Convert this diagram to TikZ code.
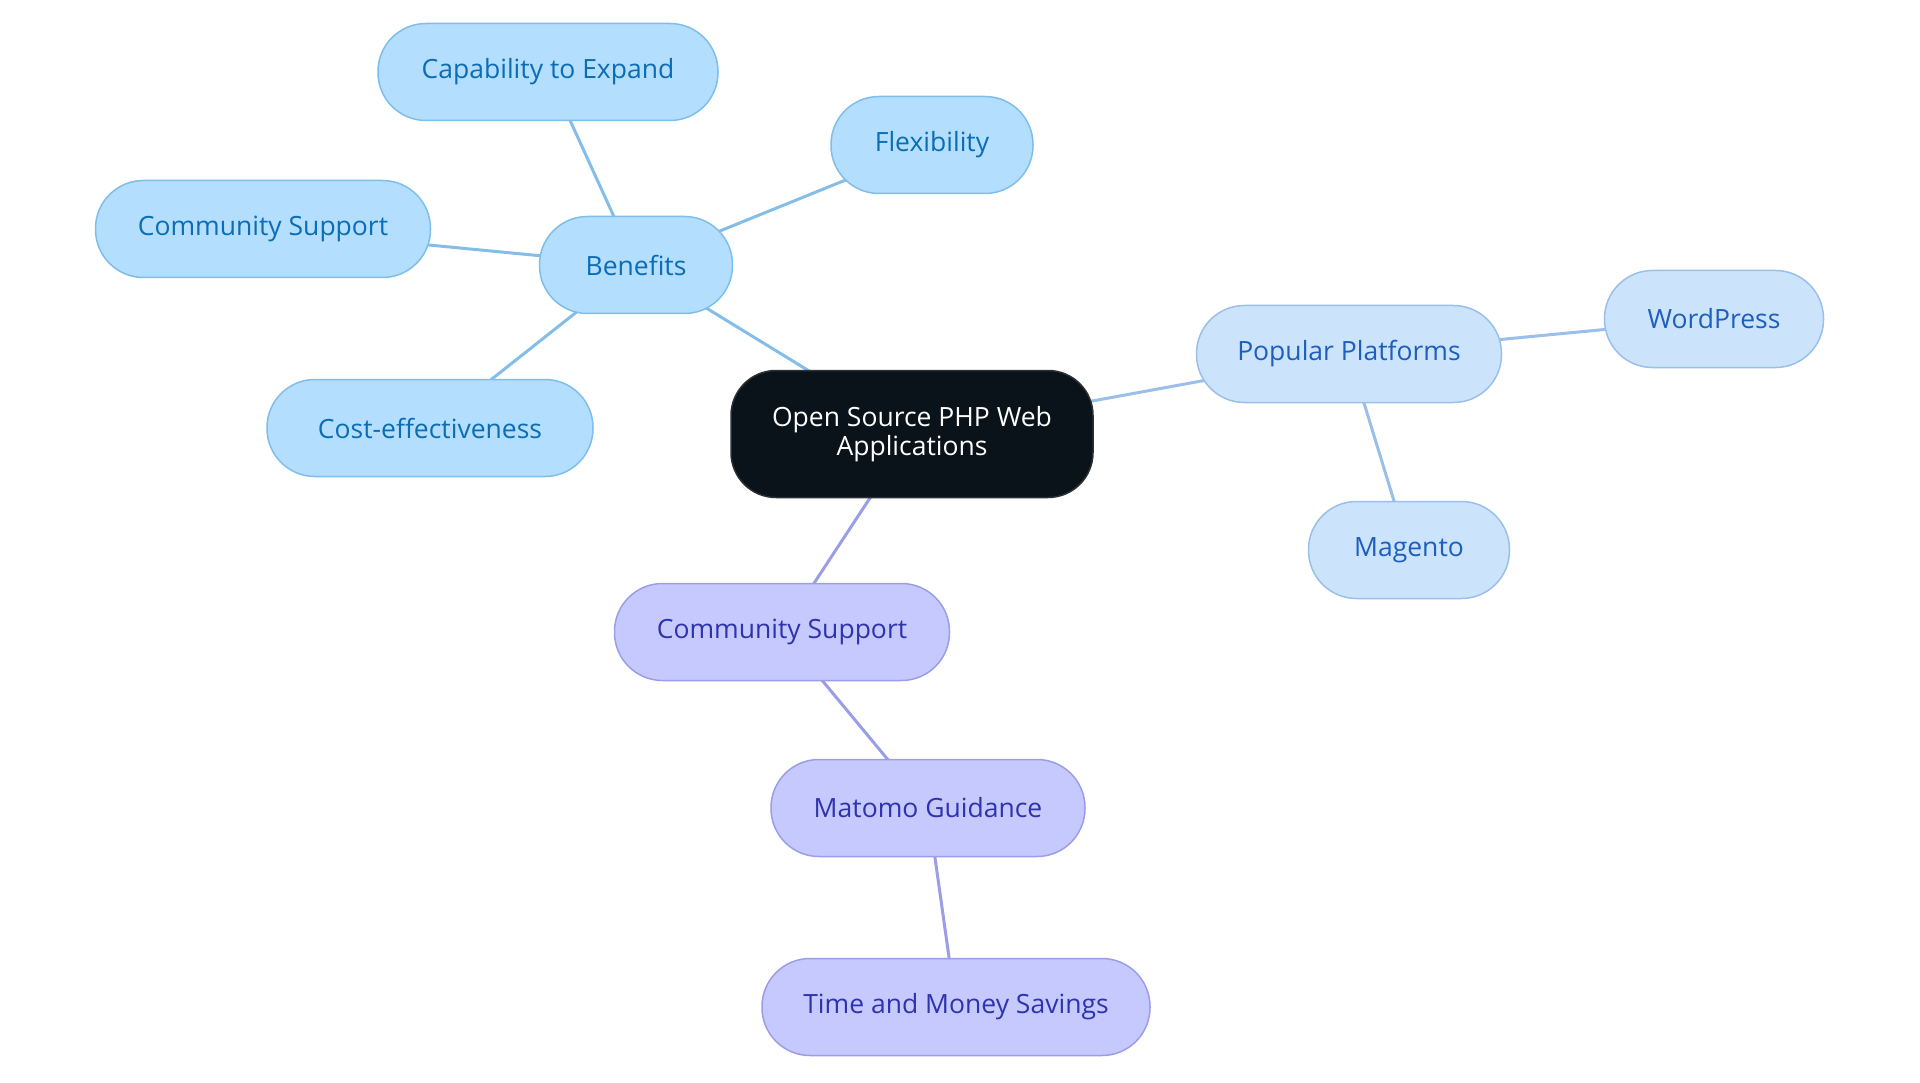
\documentclass[tikz,border=0pt]{standalone}
\usepackage{fontspec}
\setmainfont{Open Sans}
\usetikzlibrary{backgrounds}
\definecolor{bfill}{HTML}{B3DEFD}
\definecolor{bborder}{HTML}{7FBDEB}
\definecolor{btext}{HTML}{0B6DB5}
\definecolor{bedge}{HTML}{84BEE8}
\definecolor{pfill}{HTML}{CCE3FC}
\definecolor{pborder}{HTML}{99BFEA}
\definecolor{ptext}{HTML}{1C5FBE}
\definecolor{pedge}{HTML}{99BFEA}
\definecolor{vfill}{HTML}{C6C9FD}
\definecolor{vborder}{HTML}{9A9EE6}
\definecolor{vtext}{HTML}{2E33AE}
\definecolor{vedge}{HTML}{9A9EE6}
\definecolor{rfill}{HTML}{0A131A}
\definecolor{rborder}{HTML}{2B3036}
\begin{document}
\begin{tikzpicture}[x=1pt,y=-1pt,
  base/.style={rectangle, rounded corners=48pt, minimum height=97pt, inner sep=0pt,
    font=\fontsize{26.5}{29}\selectfont, line width=1.5pt},
  bnode/.style={base, fill=bfill, draw=bborder, text=btext},
  pnode/.style={base, fill=pfill, draw=pborder, text=ptext},
  vnode/.style={base, fill=vfill, draw=vborder, text=vtext},
  rootnode/.style={base, rounded corners=45pt, minimum height=127pt, fill=rfill, draw=rborder, text=white, align=center},
  bline/.style={draw=bedge, line width=3pt},
  pline/.style={draw=pedge, line width=3pt},
  vline/.style={draw=vedge, line width=3pt}]
\useasboundingbox (0,0) rectangle (1920,1083);
\node[rootnode, minimum width=362pt] (root) at (912,434) {Open Source PHP Web\\Applications};
\node[bnode, minimum width=193pt] (ben) at (636,265) {Benefits};
\node[bnode, minimum width=340pt] (cap) at (548,72) {Capability to Expand};
\node[bnode, minimum width=202pt] (flex) at (932,145) {Flexibility};
\node[bnode, minimum width=335pt] (csl) at (263,229) {Community Support};
\node[bnode, minimum width=326pt] (cost) at (430,428) {Cost-effectiveness};
\node[pnode, minimum width=305pt] (pop) at (1349,354) {Popular Platforms};
\node[pnode, minimum width=219pt] (wp) at (1714,319) {WordPress};
\node[pnode, minimum width=201pt] (mag) at (1409,550) {Magento};
\node[vnode, minimum width=335pt] (csp) at (782,632) {Community Support};
\node[vnode, minimum width=314pt] (mat) at (928,808) {Matomo Guidance};
\node[vnode, minimum width=388pt] (tms) at (956,1007) {Time and Money Savings};
\begin{pgfonlayer}{background}
\draw[bline] (root.center) -- (ben.center);
\draw[bline] (ben.center) -- (cap.center);
\draw[bline] (ben.center) -- (flex.center);
\draw[bline] (ben.center) -- (csl.center);
\draw[bline] (ben.center) -- (cost.center);
\draw[pline] (root.center) -- (pop.center);
\draw[pline] (pop.center) -- (wp.center);
\draw[pline] (pop.center) -- (mag.center);
\draw[vline] (root.center) -- (csp.center);
\draw[vline] (csp.center) -- (mat.center);
\draw[vline] (mat.center) -- (tms.center);
\end{pgfonlayer}
\end{tikzpicture}
\end{document}
